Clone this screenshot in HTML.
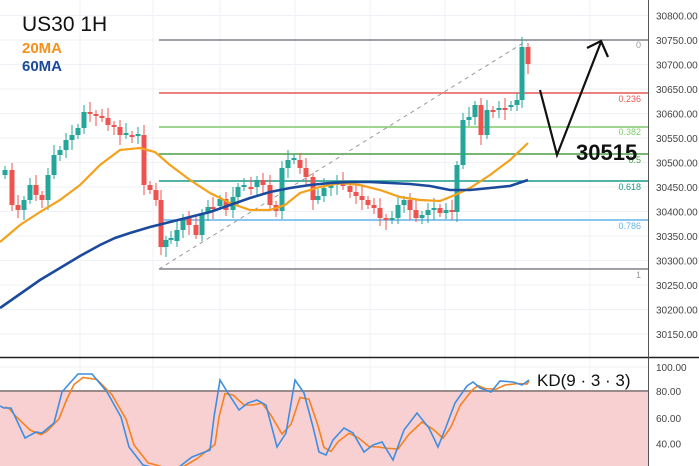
<!DOCTYPE html>
<html><head><meta charset="utf-8"><style>
body{margin:0;background:#fff;width:699px;height:466px;overflow:hidden}
svg{display:block;font-family:"Liberation Sans",sans-serif}
</style></head><body>
<svg id="s" width="699" height="466" viewBox="0 0 699 466" xmlns="http://www.w3.org/2000/svg">
<g id="grid" stroke="#eef1f6" stroke-width="1"></g>
<rect x="0" y="391" width="648" height="80" fill="#f9d0d2"/>
<line x1="0" y1="391" x2="648" y2="391" stroke="#9b8a8a" stroke-width="2"/>
<line x1="0" y1="357.5" x2="699" y2="357.5" stroke="#222" stroke-width="1.5"/>
<line x1="648.5" y1="0" x2="648.5" y2="466" stroke="#555" stroke-width="1"/>
<g stroke-width="1.5">
<line x1="159" y1="40" x2="648" y2="40" stroke="#80808a"/>
<line x1="159" y1="93" x2="648" y2="93" stroke="#e35a55"/>
<line x1="159" y1="127" x2="648" y2="127" stroke="#7fc96b"/>
<line x1="159" y1="154" x2="648" y2="154" stroke="#4a9e45"/>
<line x1="159" y1="181" x2="648" y2="181" stroke="#1a9a8a"/>
<line x1="159" y1="220" x2="648" y2="220" stroke="#64b4e8"/>
<line x1="159" y1="269" x2="648" y2="269" stroke="#80808a"/>
</g>
<line x1="159" y1="269" x2="528" y2="40" stroke="#999" stroke-dasharray="4,4"/>
<g font-size="9" text-anchor="end">
<text x="641" y="48" fill="#999">0</text>
<text x="641" y="102" fill="#e35a55">0.236</text>
<text x="641" y="135" fill="#7fc96b">0.382</text>
<text x="641" y="163" fill="#4a9e45">0.5</text>
<text x="641" y="190" fill="#1a9a8a">0.618</text>
<text x="641" y="229" fill="#64b4e8">0.786</text>
<text x="641" y="278" fill="#999">1</text>
</g>
<g id="c"></g>
<path d="M0,242 L20,225 L40,212 L60,200 L80,185 L100,165 L120,150 L140,148 L155,152 L170,165 L190,180 L210,193 L230,203 L250,210 L270,210 L285,205 L300,193 L320,187 L340,183 L360,185 L380,190 L400,197 L420,200 L440,201 L455,195 L470,188 L490,175 L510,160 L528,143" fill="none" stroke="#f5a11c" stroke-width="2.2"/>
<path d="M0,308 L20,294 L40,280 L60,268 L80,256 L100,245 L115,238 L130,233 L150,227 L170,222 L190,217 L210,212 L230,205 L250,198 L270,192 L290,188 L310,185 L330,183 L350,182 L370,182 L390,183 L410,184 L430,186 L450,190 L470,190 L490,188 L510,186 L528,180" fill="none" stroke="#1b4a9c" stroke-width="2.6"/>
<path d="M540,90 L557,155 L601,42 M587,48 L601,41 L608,57" fill="none" stroke="#111" stroke-width="2.2"/>
<text x="576" y="160" font-size="22" font-weight="bold" fill="#111">30515</text>
<text x="22" y="31" font-size="21" fill="#111">US30 1H</text>
<text x="22" y="53" font-size="15" font-weight="bold" fill="#f5901c">20MA</text>
<text x="22" y="71" font-size="15" font-weight="bold" fill="#1b4a9c">60MA</text>
<g id="ax" font-size="10" fill="#444"></g>
<polyline id="d" fill="none" stroke="#f5821f" stroke-width="1.6"/>
<polyline id="k" fill="none" stroke="#3f8ee0" stroke-width="1.6"/>
<text x="537" y="386" font-size="17" fill="#111">KD(9 · 3 · 3)</text>
</svg>
<script>
var NS="http://www.w3.org/2000/svg";
function el(p,t,a){var e=document.createElementNS(NS,t);for(var k in a)e.setAttribute(k,a[k]);p.appendChild(e);return e;}
var g=document.getElementById('grid');
[80,153,220,295,370,445,515,590].forEach(function(x){el(g,'line',{x1:x,y1:0,x2:x,y2:466});});
var ax=document.getElementById('ax');
for(var p=30800;p>=30150;p-=50){var y=40+(30750-p)*0.49;el(g,'line',{x1:0,y1:y,x2:648,y2:y});var t=el(ax,'text',{x:656,y:y+4});t.textContent=p+'.00';}
[[100,367],[80,391],[60,418],[40,443.6],[20,469]].forEach(function(a){el(g,'line',{x1:0,y1:a[1],x2:648,y2:a[1]});var t=el(ax,'text',{x:656,y:a[1]+4});t.textContent=a[0].toFixed(2);});
var cl=[[5,170],[12,205],[18,210],[24,200],[30,185],[36,195],[42,200],[48,175],[54,155],[60,150],[66,140],[72,135],[78,128],[84,112],[90,114],[96,116],[102,118],[108,125],[114,127],[120,135],[126,135],[132,136],[138,135],[144,185],[150,190],[156,200],[161,247],[166,240],[171,241],[177,230],[183,218],[189,225],[196,235],[202,213],[208,207],[213,206],[220,199],[226,210],[233,197],[238,187],[244,187],[251,187],[257,180],[263,185],[270,205],[276,211],[282,168],[288,160],[294,160],[300,168],[306,177],[313,200],[318,196],[324,188],[331,185],[337,182],[343,186],[350,192],[356,196],[362,200],[368,205],[374,208],[380,218],[386,220],[392,218],[398,205],[404,200],[410,210],[416,218],[422,215],[428,210],[434,208],[440,213],[446,210],[452,212],[457,165],[463,120],[469,117],[475,105],[481,135],[487,110],[493,110],[499,108],[505,107],[511,105],[517,100],[522,47],[528,64]];
var c=document.getElementById('c');var prev=175;
cl.forEach(function(a,i){var o=prev,cc=a[1];if(Math.abs(o-cc)<2)cc=o+(i%2?2:-2);var up=cc<o;var col=up?'#26a69a':'#ef5350';var top=Math.min(o,cc),bot=Math.max(o,cc);
el(c,'line',{x1:a[0],y1:top-4-(i%3)*3,x2:a[0],y2:bot+4+(i%4)*2,stroke:col,'stroke-width':1});
el(c,'rect',{x:a[0]-2.5,y:top,width:5,height:bot-top,fill:col});prev=a[1];});
var K=[[0,406],[4,408],[11,408],[25,438],[36,432],[42,433],[54,423],[62,392],[69,384],[78,374],[92,374],[107,392],[121,417],[129,447],[143,465],[165,470],[179,467],[192,457],[210,450],[214,417],[220,380],[228,393],[239,410],[248,403],[257,400],[266,405],[277,447],[286,433],[295,380],[304,393],[313,427],[319,452],[326,455],[333,440],[344,428],[353,433],[364,452],[373,445],[382,442],[393,460],[404,430],[417,413],[429,428],[438,447],[446,427],[455,403],[467,386],[473,382],[480,388],[491,392],[500,381],[513,382],[522,385],[529,380]];
document.getElementById('k').setAttribute('points',K.map(function(p){return p.join(',')}).join(' '));
var D=K.map(function(p,i){var y=p[1];if(i>0&&i<K.length-1)y=(K[i-1][1]+2*p[1]+K[i+1][1])/4;return [Math.min(p[0]+5,529),y+1];});
document.getElementById('d').setAttribute('points',D.map(function(p){return p.join(',')}).join(' '));
</script>
</body></html>
